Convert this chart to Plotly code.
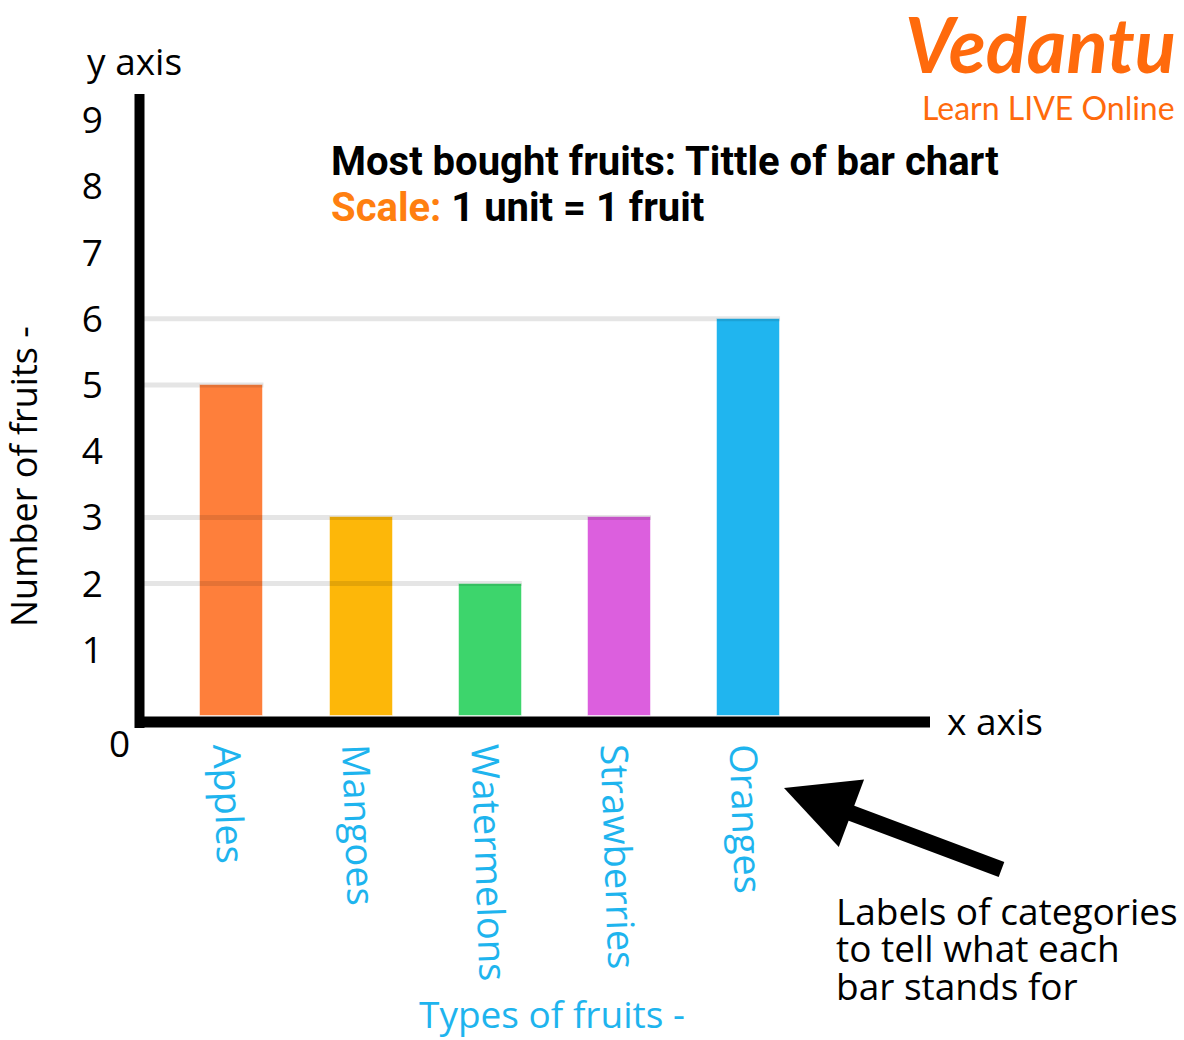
import plotly.graph_objects as go

# ---- data ----
categories = ["Apples", "Mangoes", "Watermelons", "Strawberries", "Oranges"]
counts = [5, 3, 2, 3, 6]
bar_colors = ["#FE7F3B", "#FDB709", "#3DD56C", "#DC5FDE", "#20B5EF"]
ytick_vals = [1, 2, 3, 4, 5, 6, 7, 8, 9]
ytick_text = ["1", "2", "3", "4", "5", "6", "7", "8", "9"]
note_lines = ["Labels of categories", "to tell what each", "bar stands for"]

W, H = 1184, 1040
L, R, T, B = 140, 930, 94, 716   # plot area in pixels
px_per_unit = 66.2
ymax = (B - T) / px_per_unit
x0r = -0.712
x1r = x0r + (R - L) / 129.15
bar_w = 0.488

def px(x):
    return (x - L) / (R - L)

def py(y):
    return (B - y) / (B - T)

CYAN = "#1EB4EE"
ORANGE = "#FF7F10"
FONT = "Open Sans"
FS = 37

fig = go.Figure()
fig.add_trace(go.Bar(
    x=categories, y=counts, width=bar_w,
    marker=dict(color=bar_colors, line=dict(color="rgba(255,255,255,0.5)", width=1)),
    showlegend=False, hoverinfo="x+y",
))

shapes = []
# reference lines from y-axis to right edge of the right-most bar of each value
for v in sorted(set(counts)):
    idx = max(i for i, c in enumerate(counts) if c == v)
    shapes.append(dict(type="line", xref="x", yref="y", x0=x0r, x1=idx + bar_w / 2,
                       y0=v, y1=v, line=dict(color="rgba(0,0,0,0.10)", width=5),
                       layer="above"))
# thick axis lines
shapes.append(dict(type="line", xref="paper", yref="paper", x0=px(139.5), x1=px(139.5),
                   y0=py(728), y1=py(94), line=dict(color="black", width=10)))
shapes.append(dict(type="line", xref="paper", yref="paper", x0=px(135), x1=px(930),
                   y0=py(722), y1=py(722), line=dict(color="black", width=11)))

annotations = [
    dict(text="y axis", x=px(85), y=py(60), xanchor="left", yanchor="middle",
         font=dict(family=FONT, size=FS, color="black")),
    dict(text="x axis", x=px(945), y=py(720), xanchor="left", yanchor="middle",
         font=dict(family=FONT, size=FS, color="black")),
    dict(text="0", x=px(132), y=py(743), xanchor="right", yanchor="middle",
         font=dict(family=FONT, size=FS, color="black")),
    dict(text="Number of fruits -", x=px(24), y=py(477), textangle=-90,
         xanchor="center", yanchor="middle",
         font=dict(family=FONT, size=36, color="black")),
    dict(text="Types of fruits -", x=px(552), y=py(1013), xanchor="center", yanchor="middle",
         font=dict(family=FONT, size=FS, color=CYAN)),
    dict(text="<b>Most bought fruits: Tittle of bar chart</b>", x=px(329), y=py(161),
         xanchor="left", yanchor="middle", font=dict(family="Roboto", size=40, color="black")),
    dict(text="<b><span style='color:%s'>Scale:</span> 1 unit = 1 fruit</b>" % ORANGE,
         x=px(329), y=py(208), xanchor="left", yanchor="middle",
         font=dict(family="Roboto", size=40, color="black")),
    dict(text="<b><i>Vedantu</i></b>", x=px(1178), y=py(44), xanchor="right", yanchor="middle",
         font=dict(family="Lato", size=76, color="#FF6A0C")),
    dict(text="Learn LIVE Online", x=px(1177), y=py(107), xanchor="right", yanchor="middle",
         font=dict(family="Lato", size=32, color="#FF6A0C")),
    dict(text="", x=px(784), y=py(788), ax=1003 - 784, ay=870 - 788,
         showarrow=True, arrowhead=2, arrowsize=0.9, arrowwidth=16, arrowcolor="black",
         standoff=0),
]
for i, line in enumerate(note_lines):
    annotations.append(dict(text=line, x=px(834), y=py(910 + 37.5 * i), xanchor="left",
                            yanchor="middle", font=dict(family=FONT, size=FS, color="black")))
for a in annotations:
    a.setdefault("xref", "paper")
    a.setdefault("yref", "paper")
    a.setdefault("showarrow", False)

fig.update_layout(
    width=W, height=H,
    margin=dict(l=L, r=W - R, t=T, b=H - B, pad=0),
    paper_bgcolor="white", plot_bgcolor="white",
    bargap=0,
    xaxis=dict(range=[x0r, x1r], showgrid=False, zeroline=False, showline=False,
               ticks="", tickangle=88, ticklabelstandoff=8,
               tickfont=dict(family=FONT, size=38, color=CYAN)),
    yaxis=dict(range=[0, ymax], showgrid=False, zeroline=False, showline=False,
               tickvals=ytick_vals, ticktext=ytick_text, ticks="",
               ticklabelstandoff=36,
               tickfont=dict(family=FONT, size=FS, color="black")),
    shapes=shapes, annotations=annotations,
)

fig.write_html("out.html", config={"displayModeBar": False},
               post_script="document.body.style.margin='0';")
